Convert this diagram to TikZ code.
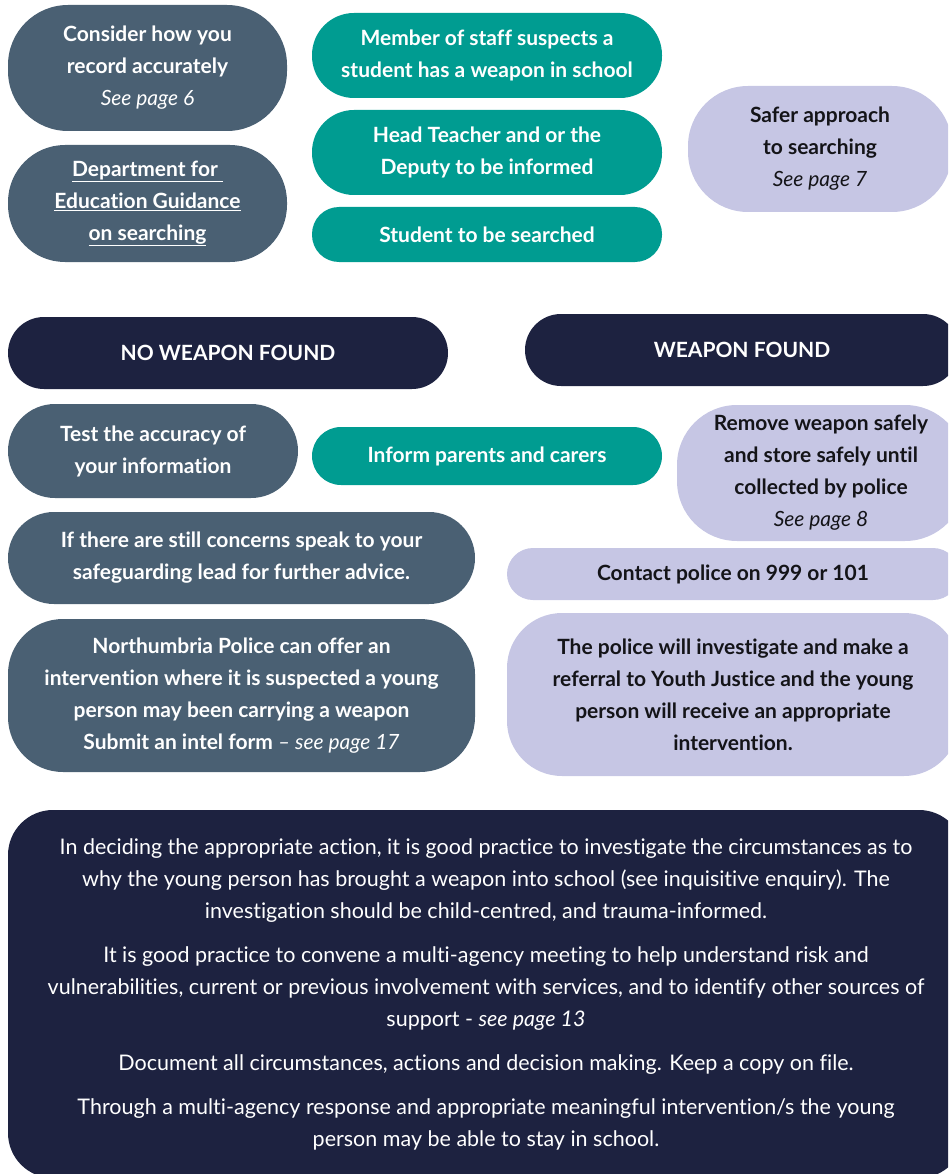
\documentclass[tikz,border=0pt]{standalone}
\usepackage{fontspec}
\setmainfont{Lato}[Ligatures=NoCommon]
\definecolor{slate}{RGB}{74,96,115}
\definecolor{teal}{RGB}{0,156,145}
\definecolor{navy}{RGB}{29,34,64}
\definecolor{lav}{RGB}{198,198,228}
\definecolor{ink}{RGB}{20,20,24}
\tikzset{
  pill/.style={inner sep=0pt, align=center, font=\fontsize{21}{32}\selectfont\bfseries},
  slatebox/.style={pill, fill=slate, text=white},
  tealbox/.style={pill, fill=teal, text=white},
  navybox/.style={pill, fill=navy, text=white},
  lavbox/.style={pill, fill=lav, text=ink},
  sz/.style n args={3}{minimum width=#1, minimum height=#2, rounded corners=#3},
}
\newcommand{\seepage}[1]{{\normalfont\itshape #1}}
\begin{document}
\begin{tikzpicture}[x=1pt,y=-1pt]
\useasboundingbox (0,0) rectangle (948,1174);
\clip (0,0) rectangle (948,1174);
% top left
\node[slatebox, sz={279}{126}{60}] (consider) at (147.5,68) {Consider how you\\record accurately\\\seepage{See page 6}};
\node[slatebox, sz={279}{117}{57}] (dfe) at (147.5,203.5) {\underline{Department for\ }\\\underline{Education Guidance}\\\underline{on searching}};
% top middle
\node[tealbox, sz={350}{85}{42}] (member) at (487,55.5) {Member of staff suspects a\\student has a weapon in school};
\node[tealbox, sz={350}{85}{42}] (head) at (487,152.5) {Head Teacher and or the\\Deputy to be informed};
\node[tealbox, sz={350}{55}{27}] (student) at (487,234.5) {Student to be searched};
% top right
\node[lavbox, sz={264}{126}{60}] (safer) at (820,149) {Safer approach\\to searching\\\seepage{See page 7}};
% headers
\node[navybox, sz={440}{72}{36}] (nowf) at (228,353) {NO WEAPON FOUND};
\node[navybox, sz={434}{72}{36}] (wf) at (742,350) {WEAPON FOUND};
% no weapon column
\node[slatebox, sz={290}{94}{47}] (test) at (153,451) {Test the accuracy of\\your information};
\node[tealbox, sz={350}{58}{29}] (inform) at (487,456) {Inform parents and carers};
\node[slatebox, sz={467}{92}{46}] (concerns) at (241.5,558) {If there are still concerns speak to your\\safeguarding lead for further advice.};
\node[slatebox, sz={467}{153}{55}] (northumbria) at (241.5,695.5) {Northumbria Police can offer an\\intervention where it is suspected a young\\person may been carrying a weapon\\Submit an intel form \seepage{-- see page 17}};
% weapon column
\node[lavbox, sz={288}{136}{60}] (remove) at (821,473) {Remove weapon safely\\and store safely until\\collected by police\\\seepage{See page 8}};
\node[lavbox, sz={452}{52}{26}] (contact) at (733,574) {Contact police on 999 or 101};
\node[lavbox, sz={452}{163}{55}] (policeinv) at (733,694.5) {The police will investigate and make a\\referral to Youth Justice and the young\\person will receive an appropriate\\intervention.};
% bottom
\node[navybox, sz={956}{368}{45}, font=\fontsize{21.5}{32}\selectfont] (bottom) at (486,994) {%
\begin{tabular}{@{}c@{}}
In deciding the appropriate action, it is good practice to investigate the circumstances as to\\
why the young person has brought a weapon into school (see inquisitive enquiry). The\\
investigation should be child-centred, and trauma-informed.\\[12pt]
It is good practice to convene a multi-agency meeting to help understand risk and\\
vulnerabilities, current or previous involvement with services, and to identify other sources of\\
support - \textit{see page 13}\\[12pt]
Document all circumstances, actions and decision making. Keep a copy on file.\\[12pt]
Through a multi-agency response and appropriate meaningful intervention/s the young\\
person may be able to stay in school.
\end{tabular}};
\end{tikzpicture}
\end{document}
